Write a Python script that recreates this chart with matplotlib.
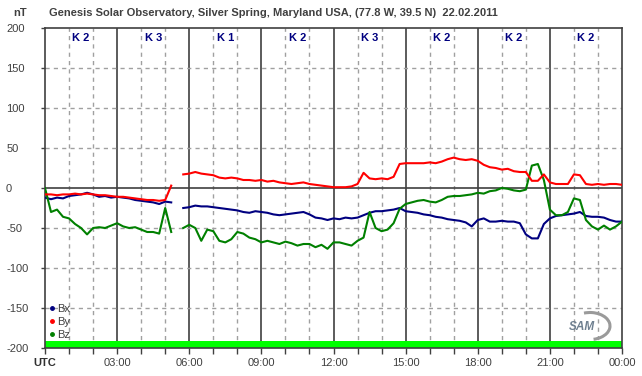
import numpy as np
import matplotlib
matplotlib.use("Agg")
import matplotlib.pyplot as plt
from matplotlib.lines import Line2D
from matplotlib.patches import Arc

# ---- data (15 min steps, 00:00 -> 24:00, nT) ----
hours = np.arange(97) * 0.25
nan = np.nan

bx = [-12, -14, -12, -13, -10, -9, -8, -6, -8, -11, -10, -12, -11, -12, -13, -15,
      -16, -17, -18, -20, -17, -18, nan, -25, -24, -22, -23, -23, -24, -25, -26, -27,
      -28, -30, -31, -29, -30, -31, -33, -34, -33, -32, -31, -30, -33, -37, -38, -40,
      -38, -39, -37, -38, -37, -34, -31, -29, -29, -28, -27, -25, -29, -30, -31, -33,
      -34, -36, -37, -39, -40, -41, -43, -48, -40, -38, -42, -42, -41, -42, -42, -44,
      -58, -63, -63, -45, -38, -35, -34, -33, -32, -30, -35, -36, -36, -37, -40, -42,
      -42]

by = [-8, -8, -9, -8, -8, -7, -8, -7, -8, -9, -9, -10, -11, -11, -12, -13,
      -14, -15, -15, -16, -15, 3, nan, 17, 18, 20, 18, 17, 16, 13, 12, 13,
      12, 10, 10, 9, 10, 8, 9, 7, 6, 5, 6, 7, 5, 4, 3, 2,
      1, 1, 1, 2, 5, 19, 12, 11, 12, 11, 14, 30, 31, 31, 31, 31,
      32, 31, 33, 36, 38, 36, 35, 36, 34, 29, 26, 25, 23, 24, 21, 20,
      20, 9, 9, 17, 7, 5, 5, 5, 17, 16, 5, 4, 5, 4, 5, 5,
      4]

bz = [0, -30, -27, -36, -38, -45, -50, -58, -50, -49, -50, -47, -44, -48, -50, -49,
      -52, -55, -55, -57, -25, -55, nan, -50, -46, -50, -66, -52, -54, -66, -68, -64,
      -55, -57, -62, -64, -68, -66, -68, -70, -67, -69, -72, -70, -70, -74, -71, -76,
      -68, -68, -70, -72, -66, -62, -30, -50, -54, -52, -44, -26, -20, -18, -16, -15,
      -17, -18, -15, -11, -10, -10, -9, -8, -6, -7, -4, -3, 0, -1, -3, -4,
      -2, 28, 30, 10, -27, -34, -34, -30, -13, -15, -40, -48, -52, -47, -52, -48,
      -42]

k_index = ["K 2", "K 3", "K 1", "K 2", "K 3", "K 2", "K 2", "K 2"]
x_labels = ["UTC", "03:00", "06:00", "09:00", "12:00", "15:00", "18:00", "21:00", "00:00"]
y_ticks = [200, 150, 100, 50, 0, -50, -100, -150, -200]

# ---- figure ----
W, H = 642, 376
fig = plt.figure(figsize=(W / 100, H / 100), dpi=100)
ax = fig.add_axes([45 / W, 28 / H, 577 / W, 320 / H])

dark = "#404040"
txt = "#404040"
font = ["Liberation Sans", "DejaVu Sans"]

ax.set_xlim(0, 24)
ax.set_ylim(-200, 200)

# grid
for h in range(1, 24):
    if h % 3 == 0:
        ax.axvline(h, color=dark, lw=1.2, zorder=1)
    else:
        ax.axvline(h, color="#a0a0a0", lw=1, ls=(0, (3, 3)), zorder=1)
for v in y_ticks[1:-1]:
    if v == 0:
        ax.axhline(v, color=dark, lw=1.2, zorder=1)
    else:
        ax.axhline(v, color="#a0a0a0", lw=1, ls=(0, (3, 3)), zorder=1)

# green status band
ax.axhspan(-200, -191, color="#00ff00", zorder=2, lw=0)

ax.plot(hours, bx, color="#000080", lw=1.5, zorder=3)
ax.plot(hours, by, color="#ff0000", lw=1.5, zorder=4)
ax.plot(hours, bz, color="#008000", lw=1.5, zorder=3)

# K index labels
for i, k in enumerate(k_index):
    ax.text(i * 3 + 1.5, 188, k, ha="center", va="center", color="#000080",
            fontsize=8, fontweight="bold", family=font, zorder=5)

for s in ax.spines.values():
    s.set_color(dark)
    s.set_linewidth(1.2)

ax.set_xticks(range(0, 25, 3))
ax.set_xticks(range(0, 25), minor=True)
ax.set_xticklabels(x_labels)
ax.set_yticks(y_ticks)
ax.set_yticklabels([str(v) for v in y_ticks])
ax.tick_params(axis="x", which="both", direction="out", length=4, width=1,
               color=dark, labelsize=8, labelcolor=txt, pad=3)
ax.tick_params(axis="y", direction="out", length=3, width=1, color=dark,
               labelsize=8, labelcolor=txt, pad=25)
for lab in ax.get_yticklabels():
    lab.set_ha("left")
    lab.set_family(font)
for lab in ax.get_xticklabels():
    lab.set_family(font)
ax.get_xticklabels()[0].set_fontweight("bold")
ax.get_xticklabels()[0].set_color("#303030")

# legend
handles = [Line2D([], [], marker="o", ls="none", ms=2.5, color=c, label=l)
           for c, l in [("#000080", "Bx"), ("#ff0000", "By"), ("#008000", "Bz")]]
leg = ax.legend(handles=handles, loc="lower left", bbox_to_anchor=(-0.006, 0.0),
                frameon=False, handlelength=0.5, handletextpad=0.2,
                labelspacing=0.28, borderpad=0.2, prop={"family": font, "size": 8})
for t in leg.get_texts():
    t.set_color(txt)

# SAM logo (drawn in inches so the swoosh keeps its shape)
fig.text(582 / W, 1 - 327 / H, "SAM", ha="center", va="center", color="#6f8090",
         fontsize=8.5, fontstyle="italic", fontweight="bold", family=font, zorder=5)
fig.add_artist(Arc((5.90, 0.50), 0.40, 0.27, theta1=-75, theta2=115,
                   transform=fig.dpi_scale_trans, color="#9a9a9a", lw=2.2, zorder=5))

fig.text(273 / W, 1 - 13 / H,
         "Genesis Solar Observatory, Silver Spring, Maryland USA, (77.8 W, 39.5 N)  22.02.2011",
         ha="center", va="center", fontsize=8, fontweight="bold", color=txt, family=font)
fig.text(13 / W, 1 - 13 / H, "nT", ha="left", va="center", fontsize=8,
         fontweight="bold", color=txt, family=font)

fig.savefig("out.png", dpi=100, facecolor="white")
